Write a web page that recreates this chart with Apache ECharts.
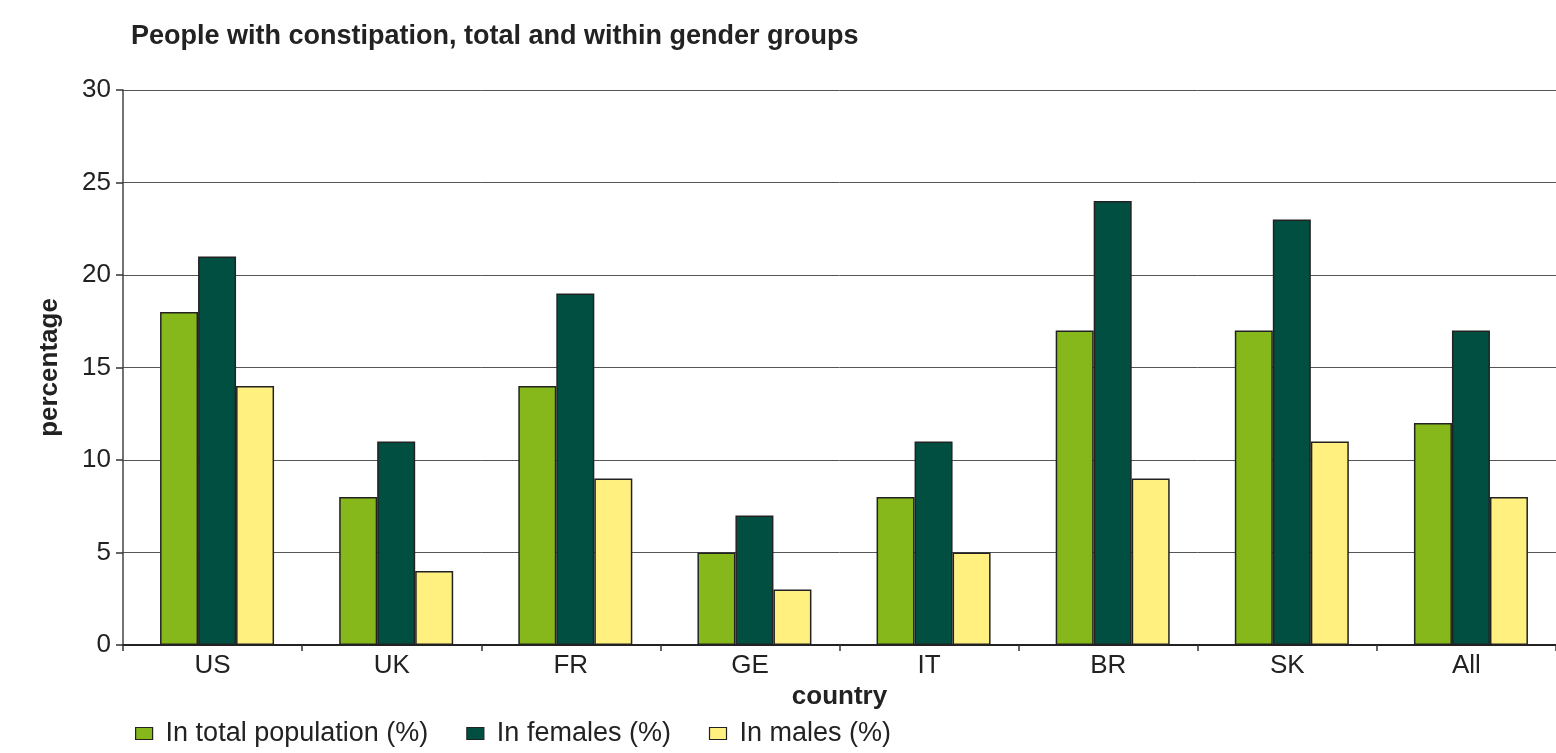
<!DOCTYPE html>
<html>
<head>
<meta charset="utf-8">
<script src="https://cdn.jsdelivr.net/npm/echarts@6/dist/echarts.min.js"></script>
<style>
  html, body { margin: 0; padding: 0; background: #fff; }
  #chart { width: 1556px; height: 753px; }
</style>
</head>
<body>
<div id="chart"></div>
<script>
// Constipation prevalence by country, overall and split by gender
const countries = ['US', 'UK', 'FR', 'GE', 'IT', 'BR', 'SK', 'All'];
const totalPopulation = [18, 8, 14, 5, 8, 17, 17, 12];
const females = [21, 11, 19, 7, 11, 24, 23, 17];
const males = [14, 4, 9, 3, 5, 9, 11, 8];
const yTicks = [0, 5, 10, 15, 20, 25, 30];

const FONT = '"Liberation Sans", Arial, Helvetica, sans-serif';
const TEXT = '#222';
const chart = echarts.init(document.getElementById('chart'), null, { renderer: 'canvas' });

function barSeries(name, data, color) {
  return {
    name: name,
    type: 'bar',
    data: data,
    barGap: '0%',
    barWidth: 38,
    itemStyle: { color: color, borderColor: '#222', borderWidth: 1.5 },
    emphasis: { disabled: true }
  };
}

// empty leading slot so each bar cluster sits a little right of its category centre
const spacer = {
  name: 'spacer',
  type: 'bar',
  data: countries.map(() => null),
  barGap: '0%',
  barWidth: 9,
  silent: true
};

chart.setOption({
  animation: false,
  textStyle: { fontFamily: FONT },
  title: {
    text: 'People with constipation, total and within gender groups',
    left: 126,
    top: 18,
    textStyle: { fontFamily: FONT, fontSize: 27, fontWeight: 'bold', color: TEXT }
  },
  legend: {
    bottom: 1,
    left: 130,
    itemWidth: 17,
    itemHeight: 12,
    itemGap: 38,
    icon: 'rect',
    textStyle: { fontFamily: FONT, fontSize: 27, color: TEXT, padding: [0, 0, 0, 8] },
    itemStyle: { borderColor: '#222', borderWidth: 1.2 },
    data: ['In total population (%)', 'In females (%)', 'In males (%)']
  },
  grid: { left: 123, right: -5, top: 90, bottom: 108, containLabel: false },
  xAxis: {
    type: 'category',
    data: countries,
    name: 'country',
    nameLocation: 'middle',
    nameGap: 35,
    nameTextStyle: { fontFamily: FONT, fontSize: 26, fontWeight: 'bold', color: TEXT },
    axisLine: { lineStyle: { color: '#222', width: 2 } },
    axisTick: { show: true, length: 6, lineStyle: { color: '#333', width: 1.5 } },
    axisLabel: { fontFamily: FONT, fontSize: 26, color: TEXT, margin: 8 }
  },
  yAxis: {
    type: 'value',
    min: yTicks[0],
    max: yTicks[yTicks.length - 1],
    interval: 5,
    name: 'percentage',
    nameLocation: 'middle',
    nameGap: 60,
    nameRotate: 90,
    nameTextStyle: { fontFamily: FONT, fontSize: 26, fontWeight: 'bold', color: TEXT },
    axisLine: { show: true, lineStyle: { color: '#444', width: 1.5 } },
    axisTick: { show: true, length: 7, lineStyle: { color: '#333', width: 1.5 } },
    axisLabel: { fontFamily: FONT, fontSize: 26, color: TEXT, margin: 12 },
    splitLine: { show: true, lineStyle: { color: '#555', width: 1 } }
  },
  series: [
    spacer,
    barSeries('In total population (%)', totalPopulation, '#86b81b'),
    barSeries('In females (%)', females, '#004f40'),
    barSeries('In males (%)', males, '#fff080')
  ]
});
</script>
</body>
</html>
